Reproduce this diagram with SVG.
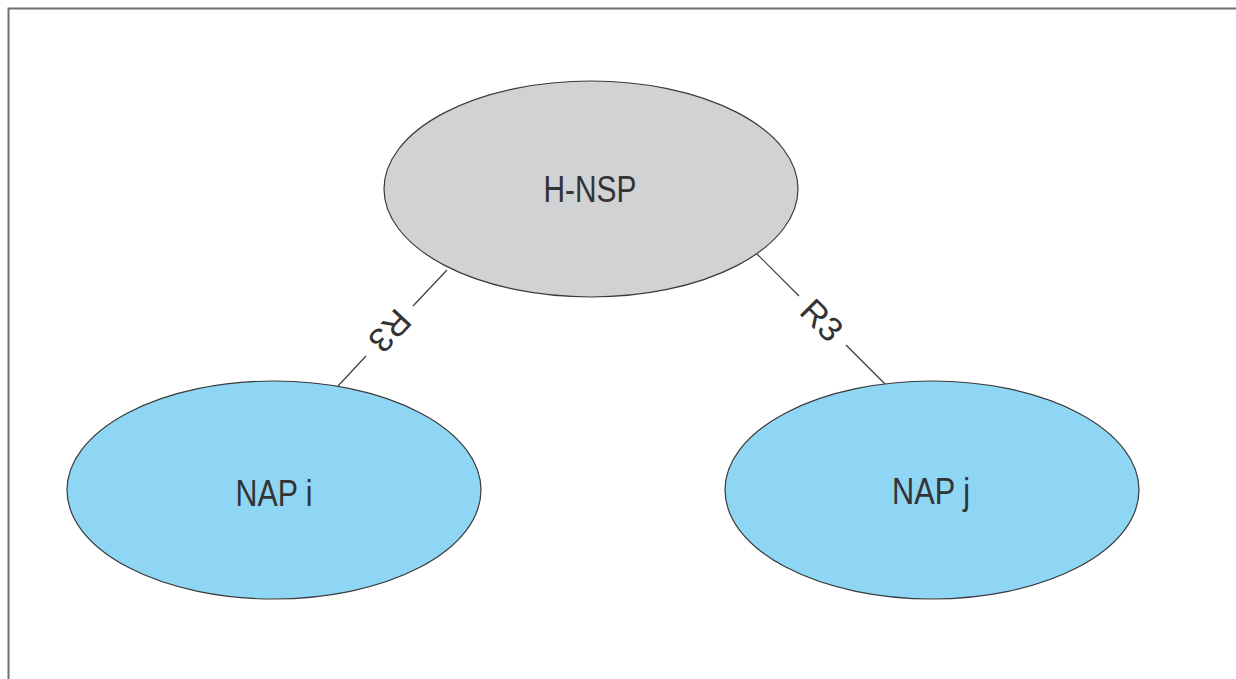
<svg xmlns="http://www.w3.org/2000/svg" width="1236" height="679" viewBox="0 0 1236 679">
  <style>
    .node { stroke: #3a3a3a; stroke-width: 1.2; }
    .hub { fill: #d1d2d4; }
    .nap { fill: #8fd6f4; }
    .label { font-family: "Liberation Sans", Arial, sans-serif; fill: #333333; text-anchor: middle; }
    .link { stroke: #3a3a3a; stroke-width: 1.2; fill: none; }
  </style>
  <rect width="1236" height="679" fill="#ffffff"/>
  <!-- outer frame -->
  <path d="M8.5 679 V8.5 H1236" fill="none" stroke="#707070" stroke-width="2"/>

  <g id="connectors">
    <g id="link-left">
      <line class="link" x1="447" y1="270" x2="413" y2="306"/>
      <line class="link" x1="366" y1="356" x2="338" y2="386"/>
      <text class="label" font-size="34" transform="translate(390 331) rotate(133)" y="12" textLength="44" lengthAdjust="spacingAndGlyphs">R3</text>
    </g>
    <g id="link-right">
      <line class="link" x1="757" y1="254" x2="799" y2="296"/>
      <line class="link" x1="846" y1="345" x2="886" y2="385"/>
      <text class="label" font-size="34" transform="translate(822 320) rotate(45)" y="12" textLength="44" lengthAdjust="spacingAndGlyphs">R3</text>
    </g>
  </g>

  <g id="h-nsp">
    <ellipse class="node hub" cx="591" cy="189" rx="207" ry="108"/>
    <text class="label" x="590" y="202" font-size="37" textLength="93" lengthAdjust="spacingAndGlyphs">H-NSP</text>
  </g>
  <g id="nap-i">
    <ellipse class="node nap" cx="274" cy="490" rx="207" ry="109"/>
    <text class="label" x="274" y="506" font-size="37" textLength="77" lengthAdjust="spacingAndGlyphs">NAP i</text>
  </g>
  <g id="nap-j">
    <ellipse class="node nap" cx="932" cy="490" rx="207" ry="109"/>
    <text class="label" x="931" y="504" font-size="37" textLength="78" lengthAdjust="spacingAndGlyphs">NAP j</text>
  </g>
</svg>
